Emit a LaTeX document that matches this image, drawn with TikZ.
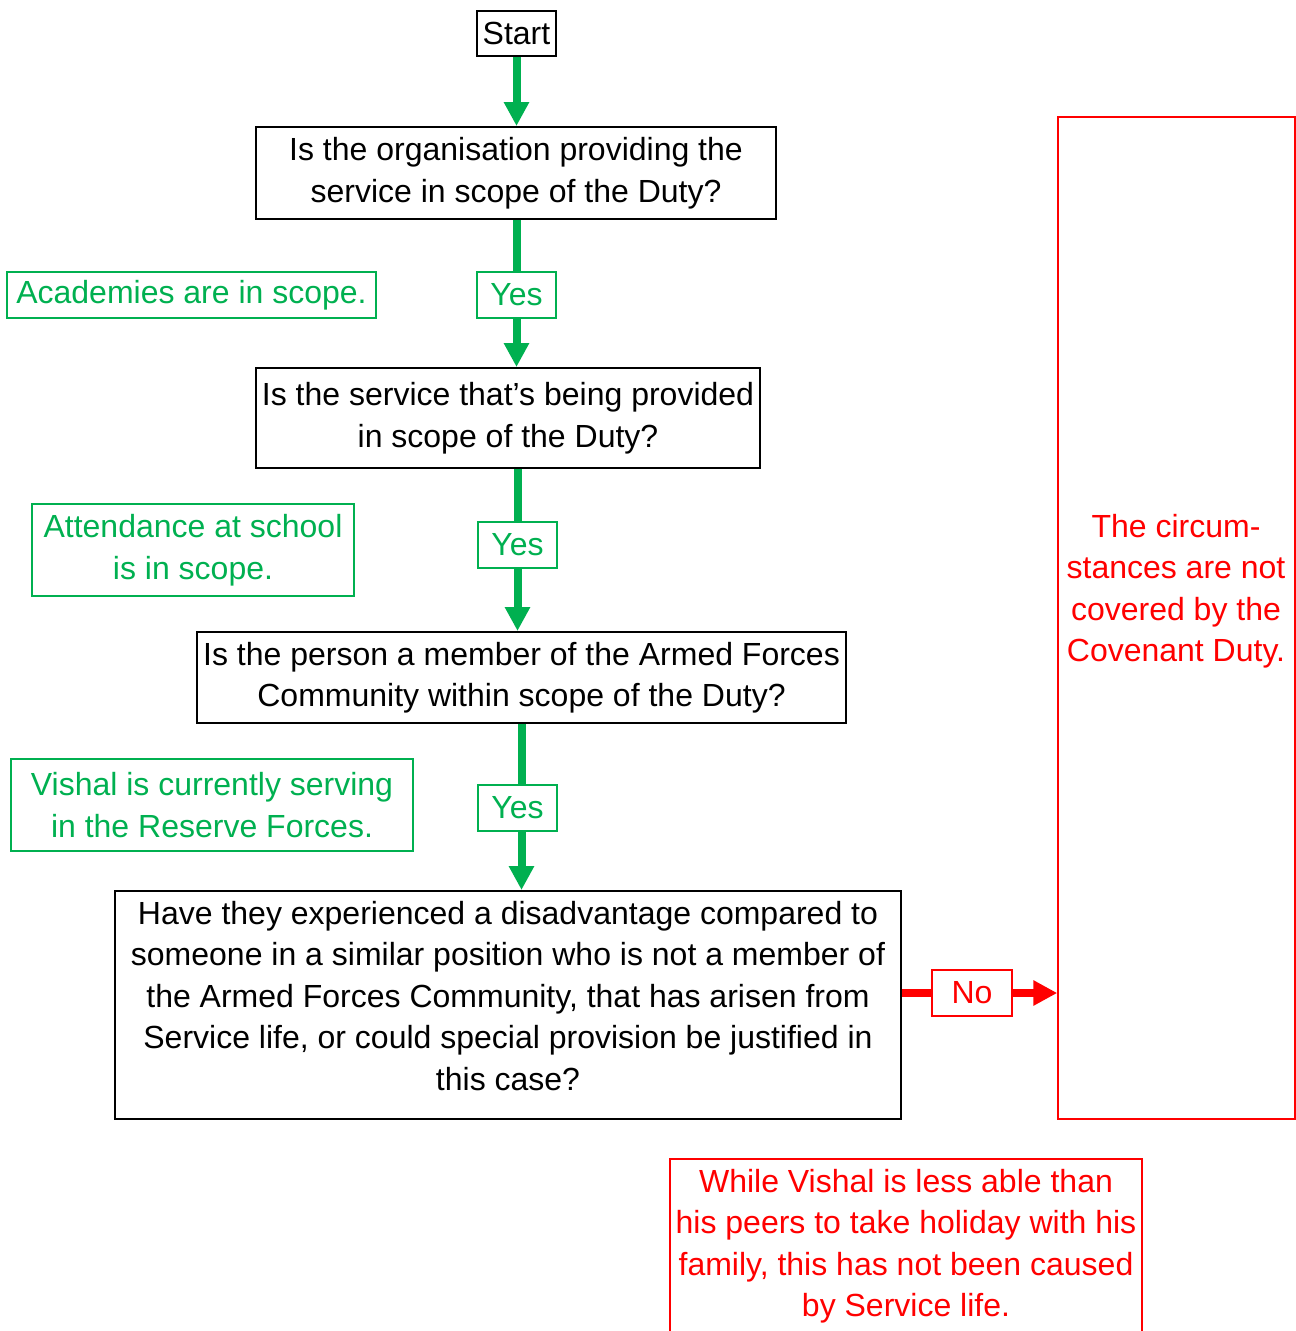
\documentclass[tikz,border=0pt]{standalone}
\usepackage{fontspec}
\setmainfont{Liberation Sans}
\usetikzlibrary{arrows.meta}
\definecolor{grn}{HTML}{00B050}
\definecolor{rd}{HTML}{FF0000}
\begin{document}
\begin{tikzpicture}[x=1pt,y=-1pt,
  every node/.style={font=\fontsize{32}{41.5}\selectfont, inner sep=0pt, align=center},
  blk/.style={draw=black, line width=2pt, rectangle},
  gbox/.style={draw=grn, text=grn, line width=1.5pt, rectangle},
  rbox/.style={draw=rd, text=rd, line width=1.5pt, rectangle},
  gline/.style={draw=grn, line width=8pt},
  garrow/.style={draw=grn, line width=8pt, -{Triangle[width=24pt,length=24pt]}},
  rline/.style={draw=rd, line width=8pt},
  rarrow/.style={draw=rd, line width=8pt, -{Triangle[width=24pt,length=24pt]}}]
\useasboundingbox (0,0) rectangle (1296,1331);
\clip (0,0) rectangle (1296,1331);
% main flow
\node[blk, minimum width=79pt, minimum height=45pt] (start) at (516.5,33.5) {Start};
\node[blk, minimum width=520pt, minimum height=92pt] (box1) at (516,173) {Is the organisation providing the\\service in scope of the Duty?};
\node[gbox, minimum width=79pt, minimum height=46pt] (yes1) at (516.5,295) {Yes};
\node[gbox, minimum width=369pt, minimum height=46pt] (acad) at (191.5,295) {Academies are in scope.};
\node[blk, minimum width=504pt, minimum height=100pt] (box2) at (508,418) {Is the service that’s being provided\\in scope of the Duty?};
\node[gbox, minimum width=322pt, minimum height=92pt] (attend) at (193,550) {Attendance at school\\is in scope.};
\node[gbox, minimum width=79pt, minimum height=46pt] (yes2) at (517.5,545) {Yes};
\node[blk, minimum width=649pt, minimum height=91pt] (box3) at (521.5,677.5) {Is the person a member of the Armed Forces\\Community within scope of the Duty?};
\node[gbox, minimum width=402pt, minimum height=92pt] (vishal) at (212,805) {Vishal is currently serving\\in the Reserve Forces.};
\node[gbox, minimum width=79pt, minimum height=46pt] (yes3) at (517.5,808) {Yes};
\node[blk, minimum width=786pt, minimum height=228pt] (box4) at (508,1005) {};
\node (box4txt) at (508,996) {Have they experienced a disadvantage compared to\\someone in a similar position who is not a member of\\the Armed Forces Community, that has arisen from\\Service life, or could special provision be justified in\\this case?};
\node[rbox, minimum width=80pt, minimum height=46pt] (no) at (972,993) {No};
\node[rbox, minimum width=237pt, minimum height=1002pt] (cov) at (1176.5,618) {};
\node[text=rd] (covtxt) at (1176,591) {The circum-\\stances are not\\covered by the\\Covenant Duty.};
\node[rbox, minimum width=472pt, minimum height=260pt] (hol) at (906,1289) {};
\node[text=rd] (holtxt) at (906,1246) {While Vishal is less able than\\his peers to take holiday with his\\family, this has not been caused\\by Service life.};
% connectors
\draw[garrow] (start.south) -- (start.south |- box1.north);
\draw[gline] (box1.south -| yes1) -- (yes1.north);
\draw[garrow] (yes1.south) -- (box2.north -| yes1);
\draw[gline] (box2.south -| yes2) -- (yes2.north);
\draw[garrow] (yes2.south) -- (box3.north -| yes2);
\draw[gline] (box3.south) -- (box3.south |- yes3.north);
\draw[garrow] (box3.south |- yes3.south) -- (box3.south |- box4.north);
\draw[rline] (box4.east |- no) -- (no.west);
\draw[rarrow] (no.east) -- (cov.west |- no);
\end{tikzpicture}
\end{document}
